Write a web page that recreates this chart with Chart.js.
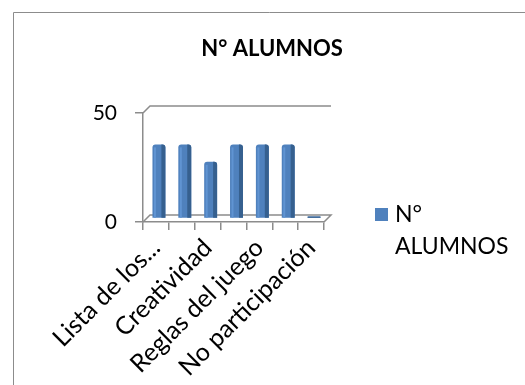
<!DOCTYPE html>
<html>
<head>
<meta charset="utf-8">
<script src="https://cdn.jsdelivr.net/npm/chart.js@4/dist/chart.umd.min.js"></script>
<style>
  html, body { margin: 0; padding: 0; background: #fff; }
  canvas { display: block; }
</style>
</head>
<body>
<canvas id="chart" width="525" height="385"></canvas>
<script>
// Categories (only every other one carries a visible label on the axis)
const categories = ['Lista de los...', '', 'Creatividad', '', 'Reglas del juego', '', 'No participación'];
const seriesName = 'N° ALUMNOS';
const alumnos = [34, 34, 26, 34, 34, 34, 0];
const yTicks = [0, 50];

const barColor = '#4F81BD';
const barSide = '#36608F';
const barLight = '#6094D2';
const lineGray = '#8c8c8c';
const depth = { dx: 7, dy: -7 };   // oblique offset of the back wall / floor
const barShift = { dx: 3, dy: -3.5 }; // bars stand halfway into the floor

// Outer frame, side wall, back wall edge and floor outline
const framePlugin = {
  id: 'frame3d',
  beforeDraw(chart) {
    const ctx = chart.ctx;
    ctx.save();
    ctx.strokeStyle = lineGray;
    ctx.lineWidth = 1;
    ctx.beginPath();
    ctx.moveTo(13.5, chart.height);
    ctx.lineTo(13.5, 12.5);
    ctx.lineTo(chart.width, 12.5);
    ctx.stroke();
    ctx.restore();
  },
  beforeDatasetsDraw(chart) {
    const { ctx, chartArea: a } = chart;
    const { dx, dy } = depth;
    ctx.save();
    ctx.strokeStyle = lineGray;
    ctx.lineWidth = 1.5;
    ctx.beginPath();
    // wall top edges
    ctx.moveTo(a.left, a.top);
    ctx.lineTo(a.left + dx, a.top + dy);
    ctx.lineTo(a.right + dx, a.top + dy);
    // floor outline
    ctx.moveTo(a.left, a.bottom);
    ctx.lineTo(a.left + dx, a.bottom + dy);
    ctx.lineTo(a.right + dx, a.bottom + dy);
    ctx.lineTo(a.right, a.bottom);
    ctx.stroke();
    ctx.restore();
    // bars are drawn set back into the floor
    ctx.save();
    ctx.translate(barShift.dx, barShift.dy);
  },
  afterDatasetsDraw(chart) {
    const ctx = chart.ctx;
    chart.getDatasetMeta(0).data.forEach(bar => {
      const p = bar.getProps(['x', 'y', 'base', 'width'], true);
      const h = p.base - p.y;
      const left = p.x - p.width / 2;
      if (h > 4) {
        // soft highlight on the front face
        ctx.fillStyle = barLight;
        ctx.fillRect(left + 1.5, p.y + 3, 2, h - 3);
        // darker right-hand face of the column
        ctx.fillStyle = barSide;
        ctx.beginPath();
        ctx.roundRect(left + p.width - 4, p.y, 4, h, [0, 3, 0, 0]);
        ctx.fill();
      } else {
        ctx.fillStyle = barSide;
        ctx.fillRect(left, p.y, p.width, h);
      }
    });
    ctx.restore();
  },
  afterDraw(chart) {
    // legend: swatch plus series name broken over two lines
    const ctx = chart.ctx;
    const ds = chart.data.datasets[0];
    ctx.save();
    ctx.fillStyle = ds.backgroundColor;
    ctx.fillRect(375, 208, 13, 13);
    ctx.fillStyle = '#000';
    ctx.font = '23px Lato';
    ctx.textBaseline = 'alphabetic';
    ctx.textAlign = 'left';
    ds.label.split(' ').forEach((word, i) => ctx.fillText(word, 395, 222 + i * 32));
    ctx.restore();
  }
};

new Chart(document.getElementById('chart'), {
  type: 'bar',
  data: {
    labels: categories,
    datasets: [{
      label: seriesName,
      data: alumnos,
      backgroundColor: barColor,
      barPercentage: 0.5,
      categoryPercentage: 1,
      minBarLength: 2,
      borderRadius: { topLeft: 3, topRight: 3 },
      borderSkipped: 'bottom'
    }]
  },
  options: {
    responsive: false,
    animation: false,
    layout: { padding: { left: 19, right: 0, top: 0, bottom: 0 } },
    plugins: {
      legend: { display: false },
      tooltip: { enabled: false },
      title: {
        display: true,
        text: seriesName,
        color: '#000',
        font: { family: 'Lato', size: 22, weight: 'bold', lineHeight: 1.2 },
        padding: { top: 36, bottom: 50.6 }
      }
    },
    scales: {
      x: {
        grid: { drawOnChartArea: false, drawTicks: true, tickLength: 8, color: lineGray, lineWidth: 1.5, offset: true },
        border: { display: true, color: lineGray, width: 1.5 },
        ticks: {
          autoSkip: false,
          minRotation: 45,
          maxRotation: 45,
          color: '#000',
          font: { family: 'Lato', size: 25 },
          padding: 3
        },
        afterFit(scale) { scale.height = 163; }
      },
      y: {
        min: 0,
        max: 50,
        afterBuildTicks(scale) { scale.ticks = yTicks.map(v => ({ value: v })); },
        grid: { drawOnChartArea: false, tickLength: 8, color: lineGray, lineWidth: 1.5 },
        border: { display: true, color: lineGray, width: 1.5 },
        ticks: { color: '#000', font: { family: 'Lato', size: 21 }, padding: 18 },
        afterFit(scale) { scale.width = 124; }
      },
      legendSpace: {
        position: 'right',
        display: true,
        grid: { display: false },
        border: { display: false },
        ticks: { display: false },
        afterFit(scale) { scale.width = 201; }
      }
    }
  },
  plugins: [framePlugin]
});
</script>
</body>
</html>
